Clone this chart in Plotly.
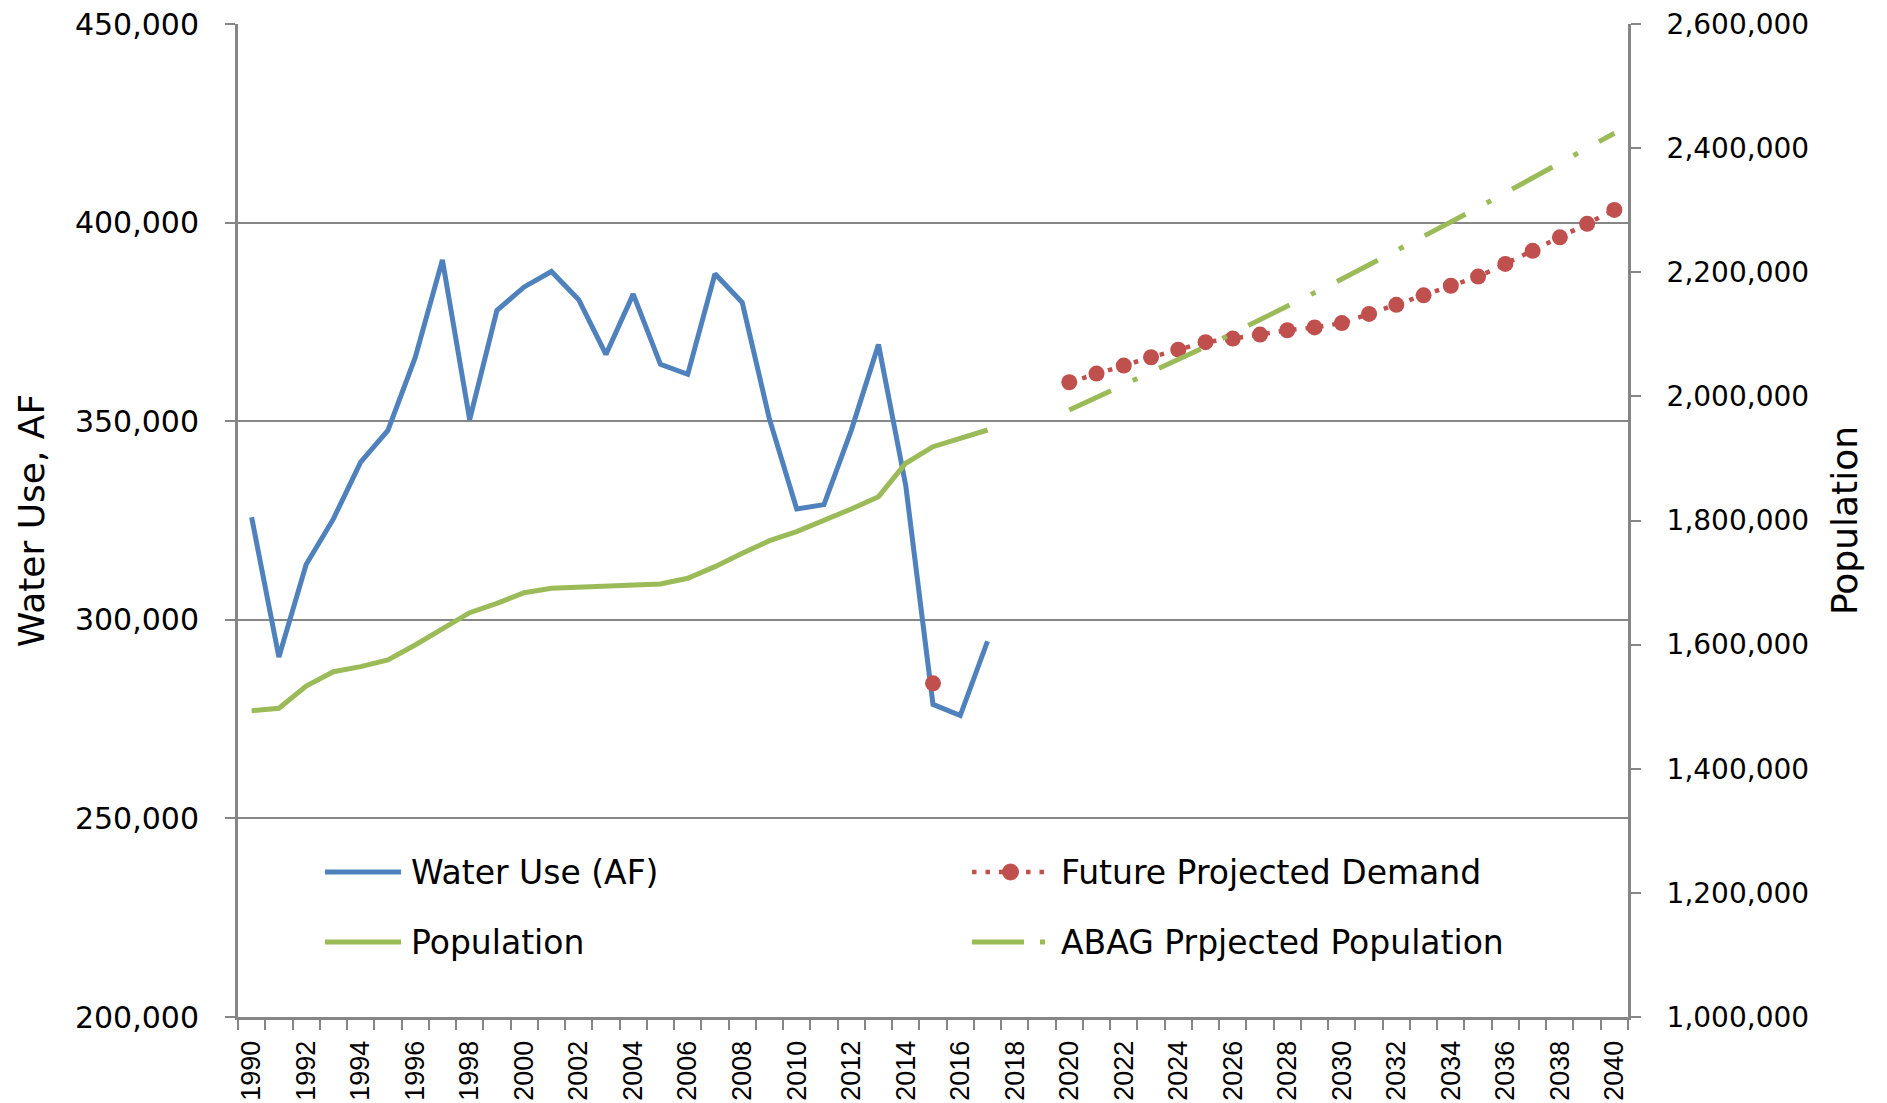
import plotly.graph_objects as go

# ---------------- data ----------------
hist_years = list(range(1990, 2018))
water_use = [325800, 290600, 313900, 325400, 339700, 347700, 366000, 390600,
             350400, 377900, 383800, 387700, 380600, 366800, 382000, 364300,
             361800, 387100, 379900, 350500, 327900, 329000, 347700, 369300,
             333800, 278700, 275900, 294600]
population = [1493500, 1497400, 1533300, 1556400, 1564500, 1575200, 1599400,
              1626300, 1651500, 1666600, 1683700, 1690700, 1692400, 1692900,
              1694500, 1697700, 1706900, 1725600, 1747100, 1767500, 1782000,
              1799700, 1818500, 1838400, 1892200, 1918900, 1932400, 1945800]

demand_years = list(range(2015, 2041))
future_demand = [284000, None, None, None, None,
                 359800, 362000, 364000, 366100, 368000, 369900, 370800,
                 371800, 372900, 373600, 374700, 377000, 379300, 381700,
                 384100, 386400, 389600, 392900, 396300, 399700, 403200]

abag_years = [2020, 2025, 2030, 2035, 2040]
abag_population = [1978000, 2080000, 2189000, 2304000, 2424000]

legend_names = ["Water Use (AF)", "Population", "Future Projected Demand",
                "ABAG Prpjected Population"]

# ---------------- style ----------------
BLUE = "#4F81BD"
GREEN = "#9BBB59"
RED = "#C0504D"
GRAY = "#868686"
FONT = "DejaVu Sans"

W, H = 1887, 1103
L, R, T, B = 238, 259, 24, 86
PW, PH = W - L - R, H - T - B


def px_x(px):
    return (px - L) / PW


def px_y(py):
    return (H - B - py) / PH


fig = go.Figure()

fig.add_trace(go.Scatter(x=hist_years, y=water_use, name=legend_names[0],
                         mode="lines", line=dict(color=BLUE, width=5),
                         yaxis="y", showlegend=False))
fig.add_trace(go.Scatter(x=hist_years, y=population, name=legend_names[1],
                         mode="lines", line=dict(color=GREEN, width=5),
                         yaxis="y2", showlegend=False))
fig.add_trace(go.Scatter(x=abag_years, y=abag_population, name=legend_names[3],
                         mode="lines",
                         line=dict(color=GREEN, width=5, dash="46px,24px,5px,24px"),
                         yaxis="y2", showlegend=False))
fig.add_trace(go.Scatter(x=demand_years, y=future_demand, name=legend_names[2],
                         mode="lines+markers", connectgaps=False,
                         line=dict(color=RED, width=4.5, dash="4.5px,9px"),
                         marker=dict(symbol="circle", size=16, color=RED),
                         yaxis="y", showlegend=False))

# ---------------- manual legend ----------------
shapes = []
annotations = []
rows = [872, 942]
col1_line = (325, 401)
col1_text = 409
col2_line = (972, 1049)
col2_text = 1059

shapes.append(dict(type="line", xref="paper", yref="paper",
                   x0=px_x(col1_line[0]), x1=px_x(col1_line[1]),
                   y0=px_y(rows[0]), y1=px_y(rows[0]),
                   line=dict(color=BLUE, width=5)))
shapes.append(dict(type="line", xref="paper", yref="paper",
                   x0=px_x(col1_line[0]), x1=px_x(col1_line[1]),
                   y0=px_y(rows[1]), y1=px_y(rows[1]),
                   line=dict(color=GREEN, width=5)))
shapes.append(dict(type="line", xref="paper", yref="paper",
                   x0=px_x(col2_line[0]), x1=px_x(col2_line[1]),
                   y0=px_y(rows[0]), y1=px_y(rows[0]),
                   line=dict(color=RED, width=4.5, dash="4.5px,9px")))
shapes.append(dict(type="circle", xref="paper", yref="paper",
                   xsizemode="pixel", ysizemode="pixel",
                   xanchor=px_x((col2_line[0] + col2_line[1]) / 2),
                   yanchor=px_y(rows[0]),
                   x0=-8, x1=8, y0=-8, y1=8,
                   fillcolor=RED, line=dict(color=RED, width=1)))
shapes.append(dict(type="line", xref="paper", yref="paper",
                   x0=px_x(col2_line[0]), x1=px_x(col2_line[1]),
                   y0=px_y(rows[1]), y1=px_y(rows[1]),
                   line=dict(color=GREEN, width=5, dash="52px,16px,5px,20px")))

for txt, xx, yy in [(legend_names[0], col1_text, rows[0]),
                    (legend_names[1], col1_text, rows[1]),
                    (legend_names[2], col2_text, rows[0]),
                    (legend_names[3], col2_text, rows[1])]:
    annotations.append(dict(text=txt, xref="paper", yref="paper",
                            x=px_x(xx), y=px_y(yy), xanchor="left",
                            yanchor="middle", showarrow=False,
                            font=dict(family=FONT, size=33, color="black")))

fig.update_layout(
    width=W, height=H,
    margin=dict(l=L, r=R, t=T, b=B, autoexpand=False),
    paper_bgcolor="white", plot_bgcolor="white",
    showlegend=False,
    shapes=shapes,
    annotations=annotations,
    xaxis=dict(
        range=[1989.5, 2040.5],
        tickmode="linear", tick0=1990, dtick=2,
        ticks="", tickangle=-90,
        tickfont=dict(family="Liberation Sans", size=27, color="black"),
        ticklabelstandoff=10,
        showgrid=False, zeroline=False, automargin=False,
        showline=True, linecolor=GRAY, linewidth=3,
        minor=dict(ticks="outside", tick0=1989.5, dtick=1, ticklen=10,
                   tickwidth=2, tickcolor=GRAY, showgrid=False),
    ),
    yaxis=dict(
        range=[200000, 450000], tickmode="linear", tick0=200000, dtick=50000,
        tickformat=",d",
        tickfont=dict(family=FONT, size=30, color="black"),
        ticks="outside", ticklen=10, tickwidth=2, tickcolor=GRAY,
        ticklabelstandoff=20, automargin=False,
        showgrid=True, gridcolor=GRAY, gridwidth=2,
        zeroline=False, showline=True, linecolor=GRAY, linewidth=3,
        title=dict(text="Water Use, AF", font=dict(family=FONT, size=36, color="black"),
                   standoff=20),
    ),
    yaxis2=dict(
        overlaying="y", side="right",
        range=[1000000, 2600000], tickmode="linear", tick0=1000000, dtick=200000,
        tickformat=",d",
        tickfont=dict(family=FONT, size=28, color="black"),
        ticks="outside", ticklen=10, tickwidth=2, tickcolor=GRAY,
        ticklabelstandoff=20, automargin=False,
        showgrid=False, zeroline=False, showline=True, linecolor=GRAY, linewidth=3,
        title=dict(text="Population", font=dict(family=FONT, size=36, color="black"),
                   standoff=24),
    ),
)

fig.write_html("out.html", config={"displayModeBar": False},
               post_script="document.body.style.margin='0';")
